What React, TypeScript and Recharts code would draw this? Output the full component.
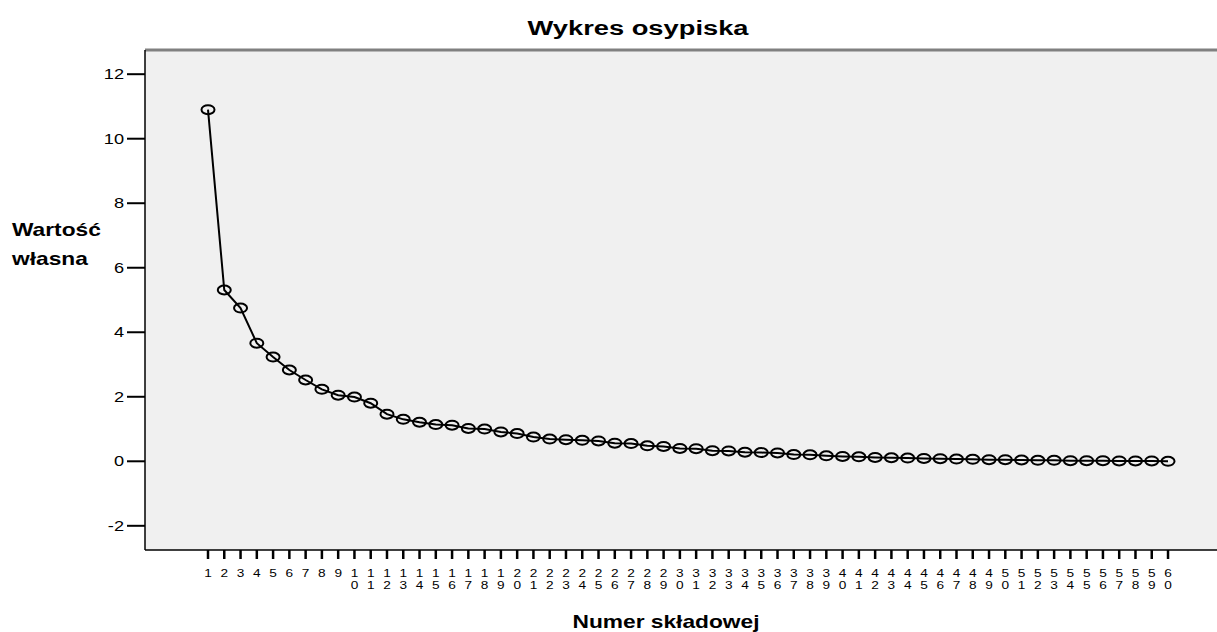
import { CartesianGrid, Line, LineChart, ReferenceLine, XAxis, YAxis } from "recharts";

const components = Array.from({ length: 60 }, (_, i) => i + 1);

const eigenvalues = [
  10.9, 5.31, 4.75, 3.66, 3.23, 2.83, 2.52, 2.23, 2.05, 1.99,
  1.8, 1.46, 1.3, 1.21, 1.14, 1.12, 1.02, 1.0, 0.91, 0.86,
  0.75, 0.69, 0.67, 0.65, 0.63, 0.56, 0.55, 0.48, 0.46, 0.4,
  0.39, 0.33, 0.32, 0.28, 0.27, 0.26, 0.21, 0.2, 0.17, 0.15,
  0.14, 0.12, 0.11, 0.1, 0.09, 0.08, 0.07, 0.06, 0.05, 0.05,
  0.04, 0.03, 0.03, 0.02, 0.02, 0.02, 0.01, 0.01, 0.01, 0.0,
];

const yTicks = [-2, 0, 2, 4, 6, 8, 10, 12];

const data = components.map((c, i) => ({ component: c, value: eigenvalues[i] }));

const FONT = "'Liberation Sans', Arial, sans-serif";
// the source image is stretched sideways, text included
const SX = 1.3;

function WideText({ x, y, size, bold, anchor, children }: any) {
  return (
    <text
      transform={`translate(${x},${y}) scale(${SX},1)`}
      textAnchor={anchor ?? "start"}
      fontSize={size}
      fontWeight={bold ? "bold" : "normal"}
      fontFamily={FONT}
      fill="#000"
    >
      {children}
    </text>
  );
}

function DigitTick({ x, y, payload }: any) {
  const digits = String(payload.value).split("");
  return (
    <g>
      {digits.map((d, i) => (
        <WideText key={i} x={x} y={y + 16 + i * 12} size={10.5} anchor="middle">
          {d}
        </WideText>
      ))}
    </g>
  );
}

function ValueTick({ x, y, payload }: any) {
  return (
    <WideText x={x} y={y + 5} size={14} anchor="end">
      {payload.value}
    </WideText>
  );
}

function EllipseDot({ cx, cy }: any) {
  if (cx == null || cy == null) return null;
  return <ellipse cx={cx} cy={cy} rx={6.5} ry={4.5} fill="none" stroke="#000" strokeWidth={2} />;
}

export default function App() {
  return (
    <div style={{ position: "absolute", left: 0, top: 0, width: 1217, height: 632, background: "#fff" }}>
      <LineChart
        width={1217}
        height={632}
        data={data}
        margin={{ top: 50, right: 0, bottom: 0, left: 0 }}
      >
        <CartesianGrid fill="#f0f0f0" horizontal={false} vertical={false} />
        <ReferenceLine y={12.75} stroke="#808080" strokeWidth={3} />
        <XAxis
          dataKey="component"
          type="number"
          domain={[-2.872, 63.01]}
          ticks={components}
          interval={0}
          allowDataOverflow
          axisLine={{ stroke: "#000", strokeWidth: 1.5 }}
          tickLine={{ stroke: "#000", strokeWidth: 2.5 }}
          tickSize={9}
          tick={<DigitTick />}
          height={82}
        />
        <YAxis
          type="number"
          domain={[-2.75, 12.75]}
          ticks={yTicks}
          allowDataOverflow
          axisLine={{ stroke: "#000", strokeWidth: 1.5 }}
          tickLine={{ stroke: "#000", strokeWidth: 2 }}
          tickSize={18}
          tickMargin={3}
          tick={<ValueTick />}
          width={145}
        />
        <Line
          type="linear"
          dataKey="value"
          stroke="#000"
          strokeWidth={2}
          dot={<EllipseDot />}
          activeDot={false}
          isAnimationActive={false}
        />
      </LineChart>
      <svg
        width={1217}
        height={632}
        style={{ position: "absolute", left: 0, top: 0, pointerEvents: "none" }}
      >
        <WideText x={638} y={35} size={21} bold anchor="middle">
          Wykres osypiska
        </WideText>
        <WideText x={12} y={236} size={17.5} bold>
          Wartość
        </WideText>
        <WideText x={12} y={265} size={17.5} bold>
          własna
        </WideText>
        <WideText x={666} y={628} size={17.5} bold anchor="middle">
          Numer składowej
        </WideText>
      </svg>
    </div>
  );
}
